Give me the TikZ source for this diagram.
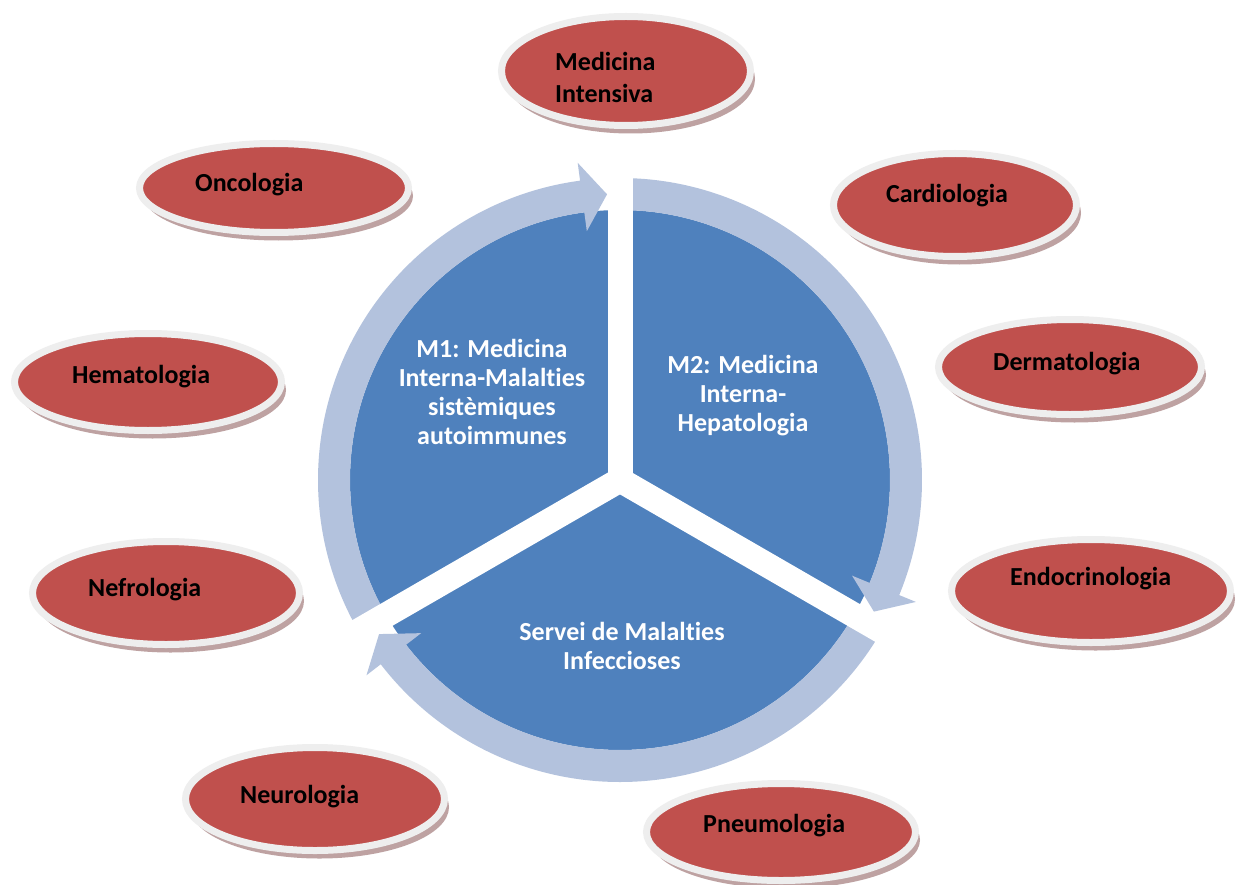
\documentclass[tikz,border=0pt]{standalone}
\usepackage{fontspec}
\setmainfont{Carlito}[Ligatures=CommonOff]
\usetikzlibrary{shapes.geometric,shadows}
\definecolor{pieblue}{RGB}{79,129,189}
\definecolor{ringblue}{RGB}{179,194,221}
\definecolor{ellred}{RGB}{192,80,77}
\definecolor{ellrim}{RGB}{238,238,238}
\definecolor{ellshadow}{RGB}{190,162,162}
\begin{document}
\begin{tikzpicture}[x=1pt,y=1pt,
  spec/.style={ellipse, inner sep=0pt, fill=ellred, draw=ellrim, line width=7pt,
    drop shadow={shadow xshift=4.5pt, shadow yshift=-8pt, fill=ellshadow, opacity=1}},
  spectext/.style={inner sep=0pt, font=\bfseries\fontsize{26}{32}\selectfont, text=black, align=left},
  pietext/.style={anchor=north, inner sep=0pt, font=\bfseries\fontsize{26}{29}\selectfont, text=white, align=center},
  ringarrow/.style={fill=ringblue},
  gapstrip/.style={draw=white, line width=25pt}]
\useasboundingbox (0,0) rectangle (1238,-885);
\fill[white] (0,0) rectangle (1238,-885);

% specialty ellipses
\node[spec, minimum width=249pt, minimum height=109pt] (medint) at (626,-71) {};
\node[spectext, anchor=north west] (medintt) at (555,-52) {Medicina\\Intensiva};
\node[spec, minimum width=269pt, minimum height=89pt] (onc) at (274,-188) {};
\node[spectext, anchor=base west] (onct) at (195,-192) {Oncologia};
\node[spec, minimum width=243pt, minimum height=103pt] (card) at (955,-205) {};
\node[spectext, anchor=base west] (cardt) at (886,-202.5) {Cardiologia};
\node[spec, minimum width=267pt, minimum height=97pt] (hem) at (148,-382) {};
\node[spectext, anchor=base west] (hemt) at (72,-383) {Hematologia};
\node[spec, minimum width=263pt, minimum height=95pt] (derm) at (1070,-367) {};
\node[spectext, anchor=base west] (dermt) at (993,-370.5) {Dermatologia};
\node[spec, minimum width=267pt, minimum height=103pt] (nef) at (166,-593) {};
\node[spectext, anchor=base west] (neft) at (88,-596.5) {Nefrologia};
\node[spec, minimum width=279pt, minimum height=103pt] (endo) at (1091,-591) {};
\node[spectext, anchor=base west] (endot) at (1010,-585) {Endocrinologia};
\node[spec, minimum width=259pt, minimum height=103pt] (neur) at (315,-799) {};
\node[spectext, anchor=base west] (neurt) at (240,-803.5) {Neurologia};
\node[spec, minimum width=269pt, minimum height=97pt] (pneu) at (781,-832) {};
\node[spectext, anchor=base west] (pneut) at (703,-832) {Pneumologia};

% central segmented cycle
\coordinate (C) at (620,-480);
\begin{scope}[shift={(C)}]
  \fill[pieblue] (0,0) circle[radius=270];
  \fill[ringarrow] (210:302) arc[start angle=210, end angle=97.6, radius=302]
    -- (97.6:320) -- (92.6:286) -- (97.6:251) -- (97.6:270)
    arc[start angle=97.6, end angle=210, radius=270] -- cycle;
  \fill[ringarrow] (90:302) arc[start angle=90, end angle=-22.4, radius=302]
    -- (-22.4:320) -- (-27.4:286) -- (-22.4:251) -- (-22.4:270)
    arc[start angle=-22.4, end angle=90, radius=270] -- cycle;
  \fill[ringarrow] (-30:302) arc[start angle=-30, end angle=-142.4, radius=302]
    -- (-142.4:320) -- (-147.4:286) -- (-142.4:251) -- (-142.4:270)
    arc[start angle=-142.4, end angle=-30, radius=270] -- cycle;
  \draw[gapstrip] (0,0) -- (90:325);
  \draw[gapstrip] (0,0) -- (210:325);
  \draw[gapstrip] (0,0) -- (330:325);
\end{scope}

\node[pietext] (m1) at (492,-339) {M1: Medicina\\Interna-Malalties\\sistèmiques\\autoimmunes};
\node[pietext] (m2) at (743,-355) {M2: Medicina\\Interna-\\Hepatologia};
\node[pietext] (sinf) at (622,-622) {Servei de Malalties\\Infeccioses};
\end{tikzpicture}
\end{document}
